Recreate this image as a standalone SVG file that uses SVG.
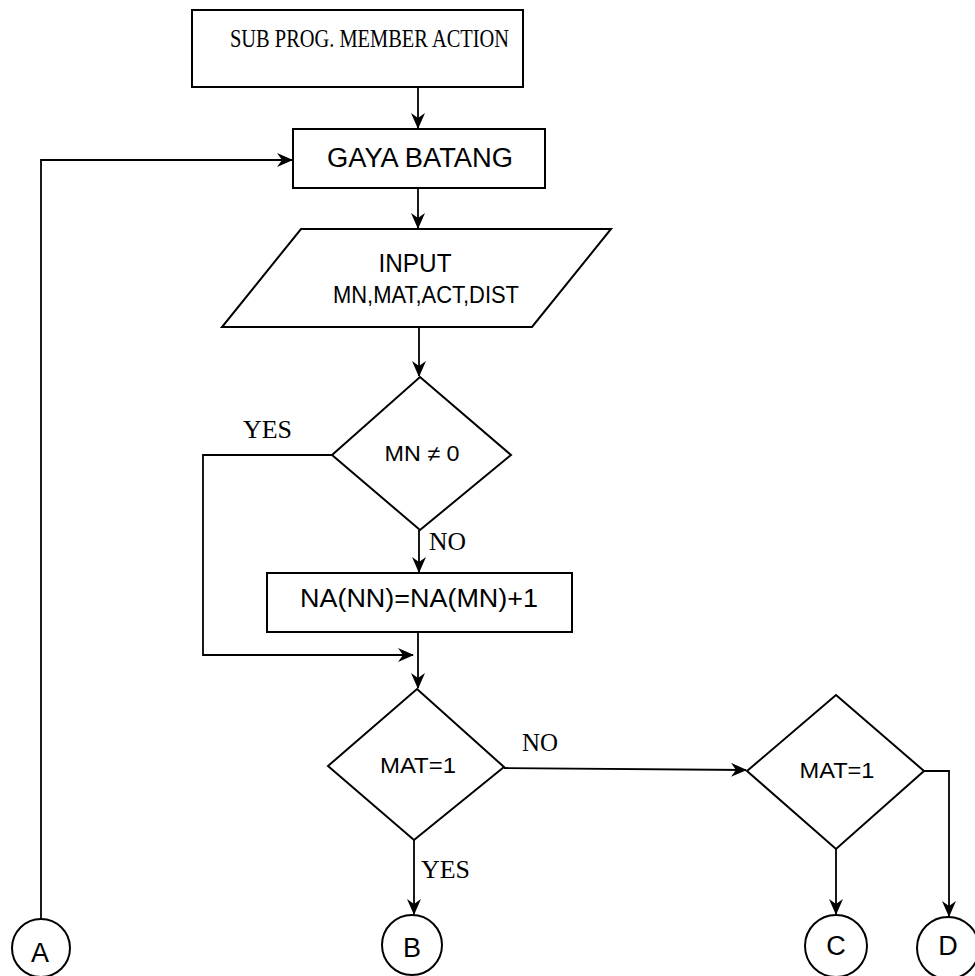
<svg xmlns="http://www.w3.org/2000/svg" width="975" height="976" viewBox="0 0 975 976">
  <style>
    .shape { fill: none; stroke: #000; stroke-width: 2; }
    .edge { fill: none; stroke: #000; stroke-width: 1.8; }
    .sans { font-family: "Liberation Sans", Arial, sans-serif; fill: #000; text-anchor: middle; }
    .serif { font-family: "Liberation Serif", "Times New Roman", serif; fill: #000; }
  </style>
  <defs>
    <marker id="arrow" viewBox="0 0 16 14" refX="15" refY="7" markerWidth="16" markerHeight="14" markerUnits="userSpaceOnUse" orient="auto">
      <path d="M0,0 L16,7 L0,14 L5,7 Z" fill="#000"/>
    </marker>
  </defs>
  <rect width="975" height="976" fill="#fff"/>

  <g id="connectors">
    <path class="edge" d="M418,87 V128" marker-end="url(#arrow)"/>
    <path class="edge" d="M418,188 V228" marker-end="url(#arrow)"/>
    <path class="edge" d="M419,327 V376" marker-end="url(#arrow)"/>
    <path class="edge" d="M419,530 V572" marker-end="url(#arrow)"/>
    <path class="edge" d="M332,455 H203 V655 H413" marker-end="url(#arrow)"/>
    <path class="edge" d="M418,632 V688" marker-end="url(#arrow)"/>
    <path class="edge" d="M504,768 L746,770" marker-end="url(#arrow)"/>
    <path class="edge" d="M414,840 V914" marker-end="url(#arrow)"/>
    <path class="edge" d="M836,849 V914" marker-end="url(#arrow)"/>
    <path class="edge" d="M924,771 H949 V916" marker-end="url(#arrow)"/>
    <path class="edge" d="M41,919 V160 H292" marker-end="url(#arrow)"/>
  </g>

  <g id="start">
    <rect class="shape" x="192" y="10" width="331" height="77"/>
    <text class="serif" x="230" y="47" font-size="25" textLength="279" lengthAdjust="spacingAndGlyphs">SUB PROG. MEMBER ACTION</text>
  </g>
  <g id="gaya-batang">
    <rect class="shape" x="293" y="129" width="252" height="59"/>
    <text class="sans" x="420" y="167" font-size="27" textLength="186" lengthAdjust="spacingAndGlyphs">GAYA BATANG</text>
  </g>
  <g id="input">
    <polygon class="shape" points="301,229 611,229 532,327 222,327"/>
    <text class="sans" x="415" y="272" font-size="25" textLength="73" lengthAdjust="spacingAndGlyphs">INPUT</text>
    <text class="sans" x="426" y="303" font-size="24" textLength="186" lengthAdjust="spacingAndGlyphs">MN,MAT,ACT,DIST</text>
  </g>
  <g id="check-mn">
    <polygon class="shape" points="420,377 511,455 420,530 332,455"/>
    <text class="sans" x="422" y="461" font-size="22" textLength="75" lengthAdjust="spacingAndGlyphs">MN ≠ 0</text>
    <text class="serif" x="243" y="438" font-size="25" textLength="49" lengthAdjust="spacingAndGlyphs">YES</text>
    <text class="serif" x="429" y="550" font-size="25" textLength="37" lengthAdjust="spacingAndGlyphs">NO</text>
  </g>
  <g id="na-update">
    <rect class="shape" x="267" y="573" width="305" height="59"/>
    <text class="sans" x="419" y="607" font-size="25" textLength="238" lengthAdjust="spacingAndGlyphs">NA(NN)=NA(MN)+1</text>
  </g>
  <g id="check-mat-1">
    <polygon class="shape" points="417,689 504,767 414,840 328,766"/>
    <text class="sans" x="418" y="773" font-size="22" textLength="76" lengthAdjust="spacingAndGlyphs">MAT=1</text>
    <text class="serif" x="522" y="751" font-size="25" textLength="36" lengthAdjust="spacingAndGlyphs">NO</text>
    <text class="serif" x="421" y="878" font-size="25" textLength="49" lengthAdjust="spacingAndGlyphs">YES</text>
  </g>
  <g id="check-mat-2">
    <polygon class="shape" points="836,695 924,771 836,849 747,771"/>
    <text class="sans" x="837" y="778" font-size="22" textLength="75" lengthAdjust="spacingAndGlyphs">MAT=1</text>
  </g>
  <g id="conn-a">
    <circle class="shape" cx="41" cy="948" r="29"/>
    <text class="sans" x="40" y="962" font-size="27">A</text>
  </g>
  <g id="conn-b">
    <circle class="shape" cx="412" cy="945" r="30"/>
    <text class="sans" x="412" y="957" font-size="27">B</text>
  </g>
  <g id="conn-c">
    <circle class="shape" cx="836" cy="946" r="31"/>
    <text class="sans" x="836" y="955" font-size="27">C</text>
  </g>
  <g id="conn-d">
    <circle class="shape" cx="948" cy="948" r="31"/>
    <text class="sans" x="948" y="955" font-size="27">D</text>
  </g>
</svg>
